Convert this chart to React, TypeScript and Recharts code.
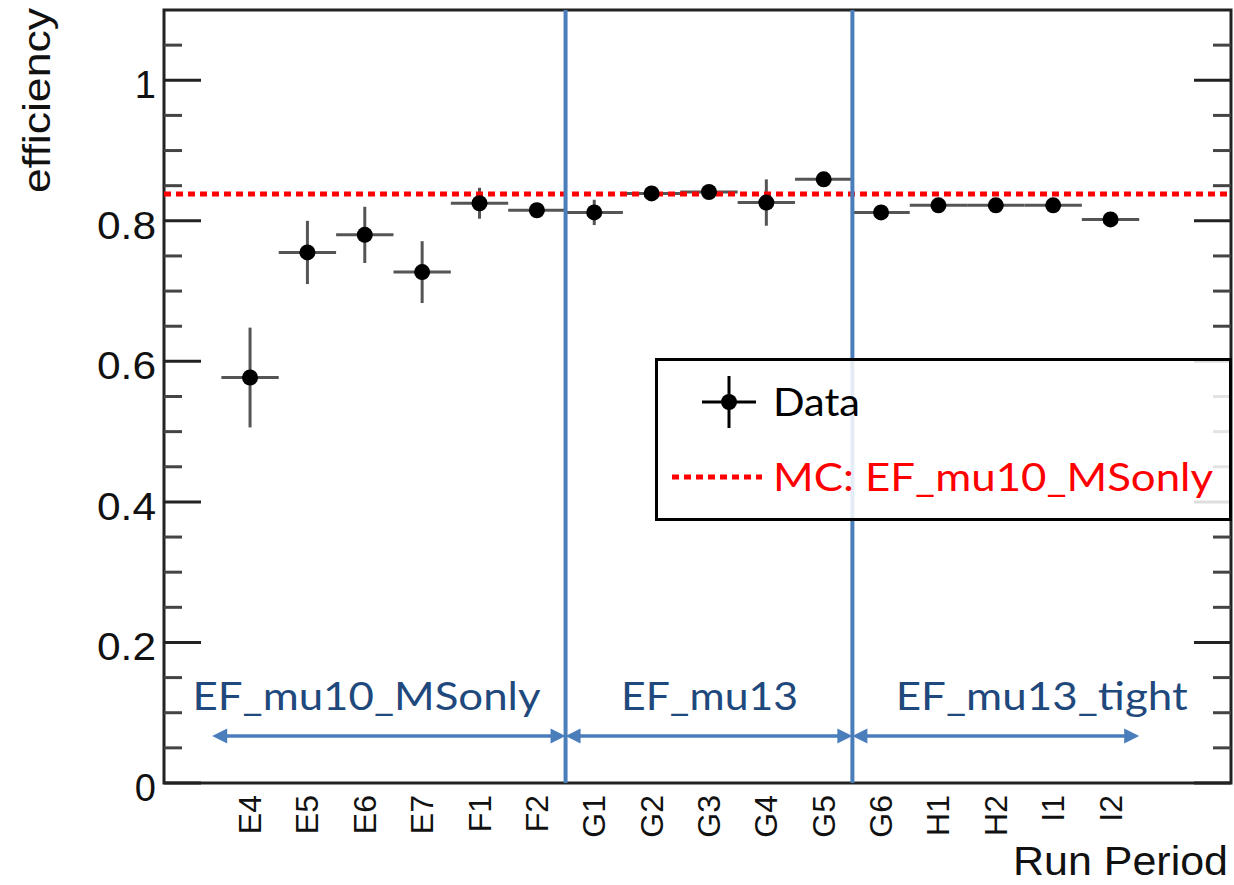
import React from 'react';
import {
  ComposedChart,
  Scatter,
  XAxis,
  YAxis,
  ErrorBar,
  ReferenceLine,
  ReferenceArea,
  Legend,
} from 'recharts';

// ---------------- data ----------------
const periods = ['E4', 'E5', 'E6', 'E7', 'F1', 'F2', 'G1', 'G2', 'G3', 'G4', 'G5', 'G6', 'H1', 'H2', 'I1', 'I2'];
const efficiency = [0.577, 0.755, 0.78, 0.727, 0.825, 0.815, 0.812, 0.839, 0.841, 0.826, 0.859, 0.812, 0.822, 0.822, 0.822, 0.802];
const efficiencyError = [0.071, 0.045, 0.04, 0.044, 0.022, 0.006, 0.018, 0.01, 0.006, 0.033, 0.006, 0.005, 0.004, 0.004, 0.004, 0.005];
const binHalfWidth = 0.5;
const mcEfficiency = 0.838;

const triggerNames = ['EF_mu10_MSonly', 'EF_mu13', 'EF_mu13_tight'];
const triggerStart = [-0.66, 5.5, 10.5];
const triggerEnd = [5.5, 10.5, 15.5];
const triggerLabelX = [2.03, 8.01, 13.8];
const triggerLabelY = 0.104;
const triggerArrowY = 0.067;
const triggerBoundaries = [5.5, 10.5];

const yTicks = [0, 0.05, 0.1, 0.15, 0.2, 0.25, 0.3, 0.35, 0.4, 0.45, 0.5, 0.55, 0.6, 0.65, 0.7, 0.75, 0.8, 0.85, 0.9, 0.95, 1, 1.05];
const yMajorTicks = [0, 0.2, 0.4, 0.6, 0.8, 1];
const yTickLabels = ['0', '0.2', '0.4', '0.6', '0.8', '1'];
const xDomain = [-1.5, 17.1];
const yDomain = [0, 1.1];

const points = periods.map((p, i) => ({
  x: i,
  y: efficiency[i],
  ey: efficiencyError[i],
  ex: binHalfWidth,
  name: p,
}));

const groupLabels = triggerNames.map((n, i) => ({ x: triggerLabelX[i], y: triggerLabelY, name: n }));

// ---------------- styles ----------------
const AXIS_FONT = 'Liberation Sans, Arial, Helvetica, sans-serif';
const ANNOT_FONT = 'Lato, "Open Sans", sans-serif';
const BLUE = '#4a7ebb';
const DARK_BLUE = '#1f497d';
const labelLengths: Record<string, number> = {
  EF_mu10_MSonly: 348,
  EF_mu13: 177,
  EF_mu13_tight: 292,
};

const isMajor = (v: number) => yMajorTicks.some((m) => Math.abs(m - v) < 1e-6);

const LeftTick = (props: any) => {
  const { x, y, payload } = props;
  const v = payload.value as number;
  const major = isMajor(v);
  const idx = yMajorTicks.findIndex((m) => Math.abs(m - v) < 1e-6);
  const lbl = idx >= 0 ? yTickLabels[idx] : '';
  const decimal = lbl.length > 1;
  return (
    <g>
      <line x1={x} x2={x + (major ? 37 : 18)} y1={y} y2={y} stroke={major ? '#222' : '#444'} strokeWidth={3} />
      {major && (
        <text
          x={x - 8}
          y={y + 5}
          textAnchor="end"
          dominantBaseline="central"
          fontFamily={AXIS_FONT}
          fontSize={38}
          fill="#111"
          {...(decimal ? { textLength: 59, lengthAdjust: 'spacingAndGlyphs' } : {})}
        >
          {lbl}
        </text>
      )}
    </g>
  );
};

const RightTick = (props: any) => {
  const { x, y, payload } = props;
  const major = isMajor(payload.value as number);
  return <line x1={x} x2={x - (major ? 37 : 18)} y1={y} y2={y} stroke={major ? '#222' : '#444'} strokeWidth={3} />;
};

const XTick = (props: any) => {
  const { x, y, payload } = props;
  const label = periods[payload.value as number];
  return (
    <text
      transform={`translate(${x},${y + 12}) rotate(-90)`}
      textAnchor="end"
      dominantBaseline="central"
      fontFamily={AXIS_FONT}
      fontSize={32}
      fill="#111"
    >
      {label}
    </text>
  );
};

const DataPoint = (props: any) => {
  const { cx, cy } = props;
  return <circle cx={cx} cy={cy} r={8} fill="#000" />;
};

const GroupLabel = (props: any) => {
  const { cx, cy, payload } = props;
  return (
    <text
      x={cx}
      y={cy}
      textAnchor="middle"
      fontFamily={ANNOT_FONT}
      fontSize={39}
      fill={DARK_BLUE}
      textLength={labelLengths[payload.name]}
      lengthAdjust="spacingAndGlyphs"
    >
      {payload.name}
    </text>
  );
};

const ArrowShape = (props: any) => {
  const { x1, y1, x2 } = props;
  const L = 15;
  const H = 7.5;
  return (
    <g>
      <line x1={x1 + L - 2} x2={x2 - L + 2} y1={y1} y2={y1} stroke={BLUE} strokeWidth={3.5} />
      <polygon points={`${x1},${y1} ${x1 + L},${y1 - H} ${x1 + L},${y1 + H}`} fill={BLUE} />
      <polygon points={`${x2},${y1} ${x2 - L},${y1 - H} ${x2 - L},${y1 + H}`} fill={BLUE} />
    </g>
  );
};

const LegendBox = () => (
  <svg width={577} height={163} style={{ display: 'block' }}>
    <rect x={1.5} y={1.5} width={574} height={160} fill="rgba(255,255,255,0.85)" stroke="#000" strokeWidth={3} />
    <line x1={47} x2={101} y1={44} y2={44} stroke="#000" strokeWidth={3} />
    <line x1={74} x2={74} y1={18} y2={70} stroke="#000" strokeWidth={3} />
    <circle cx={74} cy={44} r={8} fill="#000" />
    <text x={118} y={58} fontFamily={ANNOT_FONT} fontSize={39} fill="#000" textLength={87} lengthAdjust="spacingAndGlyphs">
      Data
    </text>
    <line x1={17} x2={107} y1={119} y2={119} stroke="#ff0000" strokeWidth={5} strokeDasharray="7 5" />
    <text x={118} y={133} fontFamily={ANNOT_FONT} fontSize={39} fill="#ff0000" textLength={440} lengthAdjust="spacingAndGlyphs">
      MC: EF_mu10_MSonly
    </text>
  </svg>
);

const YTitle = () => (
  <text
    transform="translate(50,8) rotate(-90)"
    textAnchor="end"
    fontFamily={AXIS_FONT}
    fontSize={38}
    fill="#111"
    textLength={185}
    lengthAdjust="spacingAndGlyphs"
  >
    efficiency
  </text>
);

const XTitle = () => (
  <text x={1228} y={875} textAnchor="end" fontFamily={AXIS_FONT} fontSize={40} fill="#111" textLength={215} lengthAdjust="spacingAndGlyphs">
    Run Period
  </text>
);

export default function App() {
  return (
    <div style={{ position: 'absolute', left: 0, top: 0, width: 1234, height: 885, background: '#fff' }}>
      <ComposedChart width={1234} height={885} margin={{ top: 10, right: 0, bottom: 0, left: 0 }}>
        <XAxis
          type="number"
          dataKey="x"
          domain={xDomain}
          ticks={periods.map((_, i) => i)}
          interval={0}
          tick={<XTick />}
          tickLine={false}
          axisLine={false}
          tickSize={0}
          tickMargin={0}
          height={102}
          allowDataOverflow
          label={<XTitle />}
        />
        <YAxis
          yAxisId="l"
          type="number"
          domain={yDomain}
          ticks={yTicks}
          interval={0}
          tick={<LeftTick />}
          tickLine={false}
          axisLine={false}
          tickSize={0}
          tickMargin={0}
          width={164}
          allowDataOverflow
          label={<YTitle />}
        />
        <YAxis
          yAxisId="r"
          orientation="right"
          type="number"
          domain={yDomain}
          ticks={yTicks}
          interval={0}
          tick={<RightTick />}
          tickLine={false}
          axisLine={false}
          tickSize={0}
          tickMargin={0}
          width={3}
          allowDataOverflow
        />
        <ReferenceArea
          yAxisId="l"
          x1={xDomain[0]}
          x2={xDomain[1]}
          y1={yDomain[0]}
          y2={yDomain[1]}
          fill="none"
          stroke="#222"
          strokeWidth={3}
          ifOverflow="visible"
        />
        <Scatter yAxisId="l" data={points} dataKey="y" shape={<DataPoint />} isAnimationActive={false}>
          <ErrorBar dataKey="ey" direction="y" width={0} stroke="#555" strokeWidth={3} isAnimationActive={false} />
          <ErrorBar dataKey="ex" direction="x" width={0} stroke="#555" strokeWidth={3} isAnimationActive={false} />
        </Scatter>
        <Scatter yAxisId="l" data={groupLabels} dataKey="y" shape={<GroupLabel />} isAnimationActive={false} />
        <ReferenceLine yAxisId="l" y={mcEfficiency} stroke="#ff0000" strokeWidth={5} strokeDasharray="7 5" ifOverflow="visible" />
        {triggerBoundaries.map((b) => (
          <ReferenceLine key={`b${b}`} yAxisId="l" x={b} stroke={BLUE} strokeWidth={4} />
        ))}
        {triggerNames.map((n, i) => (
          <ReferenceLine
            key={`a${n}`}
            yAxisId="l"
            segment={[
              { x: triggerStart[i], y: triggerArrowY },
              { x: triggerEnd[i], y: triggerArrowY },
            ]}
            stroke={BLUE}
            shape={ArrowShape}
            ifOverflow="visible"
          />
        ))}
        <Legend
          layout="horizontal"
          verticalAlign="middle"
          align="center"
          wrapperStyle={{ left: 655, top: 358, width: 577, height: 163 }}
          content={<LegendBox />}
        />
      </ComposedChart>
    </div>
  );
}
